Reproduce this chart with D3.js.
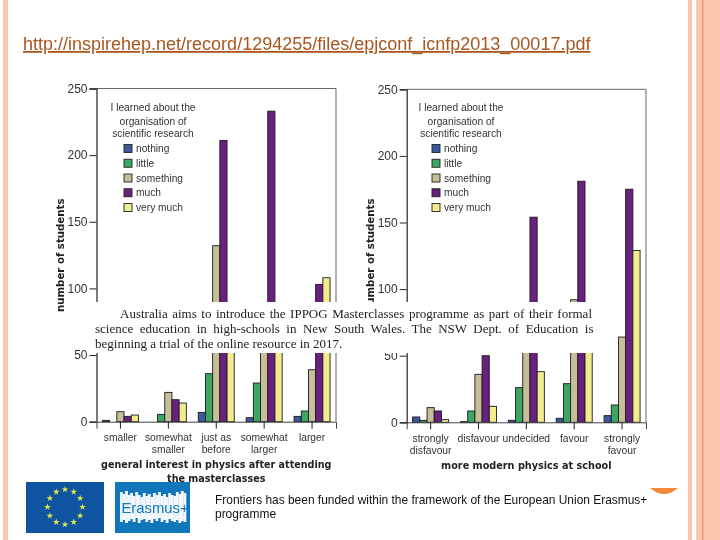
<!DOCTYPE html>
<html><head><meta charset="utf-8">
<script src="https://cdn.jsdelivr.net/npm/d3@7/dist/d3.min.js"></script>
<style>html,body{margin:0;padding:0;background:#fff}svg{display:block;filter:blur(0.35px)}</style>
</head><body><svg id="c" width="720" height="540"></svg>
<script>
const seriesNames = ["nothing","little","something","much","very much"];
const seriesColors = ["#3b5a9c","#3aa862","#c5be96","#6b2080","#f1ec8e"];
const yTicks = [0,50,100,150,200,250];
const legendTitle = ["I learned about the","organisation of","scientific research"];

const leftCategories = [["smaller"],["somewhat","smaller"],["just as","before"],["somewhat","larger"],["larger"]];
const leftNothing = [1,0,7,3,4];
const leftLittle = [0,5.5,36,29,8];
const leftSomething = [7.5,22,132,70,39];
const leftMuch = [4,16.5,211,233,103];
const leftVeryMuch = [5,14,70,70,108];
const leftAxisTitle = ["general interest in physics after attending","the masterclasses"];

const rightCategories = [["strongly","disfavour"],["disfavour"],["undecided"],["favour"],["strongly","favour"]];
const rightNothing = [4,0.5,1.5,3,5];
const rightLittle = [1.5,8.5,26,29,13];
const rightSomething = [11,36,70,92,64];
const rightMuch = [8.5,50,154,181,175];
const rightVeryMuch = [2,12,38,70,129];
const rightAxisTitle = ["more modern physics at school"];

const linkText = "http://inspirehep.net/record/1294255/files/epjconf_icnfp2013_00017.pdf";
const noteLines = ["Australia aims to introduce the IPPOG Masterclasses programme as part of their formal",
 "science education in high-schools in New South Wales. The NSW Dept. of Education is",
 "beginning a trial of the online resource in 2017."];
const footerLines = ["Frontiers has been funded within the framework of the European Union Erasmus+","programme"];
const logoBandTop = [7,5,8,4,6,3,7,4,2,6,3,5,2,6,4,7,3,5,2,6,4,3,7,5,8,6];
const logoBandBottom = [6,4,7,5,3,6,2,7,4,3,6,4,7,3,5,2,6,4,7,3,5,6,4,7,5,6];

const svg = d3.select("#c");
const sans = "'Liberation Sans',Arial,sans-serif";

// slide decoration
const stripes = [[3,5,"#f9c6b2"],[688,4,"#f9c6b2"],[696,24,"#fbc5b0"],[702,1.5,"#ee9a78"]];
svg.selectAll("rect.stripe").data(stripes).join("rect").attr("class","stripe")
  .attr("x",d=>d[0]).attr("y",0).attr("width",d=>d[1]).attr("height",540).attr("fill",d=>d[2]);

// link
svg.append("text").attr("x",23).attr("y",50).attr("font-family",sans).attr("font-size",18)
  .attr("fill","#a9561f").attr("text-decoration","underline").text(linkText);

function drawChart(o){
  const g = svg.append("g");
  const x = d3.scaleBand().domain(d3.range(o.cats.length)).range([o.x0,o.x1]);
  const y = d3.scaleLinear().domain([0,250]).range([o.y0,o.y1]);
  const inner = d3.scaleBand().domain(d3.range(5)).range([-18,18]);

  // frame
  g.append("path").attr("d",`M${o.x0},${o.y1}H${o.x1}V${o.y0}`).attr("fill","none").attr("stroke","#666").attr("stroke-width",1);

  // bars
  o.series.forEach((vals,s)=>{
    g.append("g").selectAll("rect").data(vals).join("rect")
      .attr("x",(d,i)=>x(i)+x.bandwidth()/2+inner(s))
      .attr("width",inner.bandwidth())
      .attr("y",d=>y(d)).attr("height",d=>y(0)-y(d))
      .attr("fill",seriesColors[s]).attr("stroke","#1d1a22").attr("stroke-width",0.9);
  });

  // axes
  const ya = g.append("g").attr("transform",`translate(${o.x0},0)`)
    .call(d3.axisLeft(y).tickValues(yTicks).tickSize(7).tickPadding(2));
  ya.selectAll("text").attr("font-family",sans).attr("font-size",12).attr("fill","#333");
  ya.selectAll("line").attr("stroke","#222").attr("stroke-width",1);
  ya.select(".domain").attr("stroke","#333").attr("stroke-width",1.3);

  const xa = g.append("g").attr("transform",`translate(0,${o.y0})`)
    .call(d3.axisBottom(x).tickSize(7).tickFormat(""));
  xa.selectAll("line").attr("stroke","#222").attr("stroke-width",1);
  xa.select(".domain").attr("stroke","#444").attr("stroke-width",1);

  // category labels
  o.cats.forEach((lines,i)=>{
    lines.forEach((t,k)=>{
      g.append("text").attr("x",x(i)+x.bandwidth()/2).attr("y",o.y0+k*11.8+19.5)
        .attr("text-anchor","middle").attr("font-family",sans).attr("font-size",10.3).attr("fill","#333").text(t);
    });
  });

  // axis titles
  o.title.forEach((t,k)=>{
    g.append("text").attr("x",(o.x0+o.x1)/2).attr("y",o.titleY+k*14)
      .attr("text-anchor","middle").attr("font-family","'DejaVu Sans',sans-serif").attr("font-weight","bold")
      .attr("font-size",o.titleSize).attr("fill","#222").text(t);
  });
  g.append("text").attr("transform",`translate(${o.labelX},${o.labelY}) rotate(-90)`)
    .attr("font-family","'DejaVu Sans',sans-serif").attr("font-weight","bold").attr("font-size",10.2)
    .attr("fill","#222").text("number of students");

  // legend
  legendTitle.forEach((t,k)=>{
    g.append("text").attr("x",o.legX).attr("y",[110.5,124.5,137][k]).attr("text-anchor","middle")
      .attr("font-family",sans).attr("font-size",10.2).attr("fill","#333").text(t);
  });
  const ly = d3.scalePoint().domain(seriesNames).range([148.5,207.5]);
  seriesNames.forEach((n,s)=>{
    g.append("rect").attr("x",o.legX-29).attr("y",ly(n)-4).attr("width",8).attr("height",8)
      .attr("fill",seriesColors[s]).attr("stroke","#222").attr("stroke-width",0.9);
    g.append("text").attr("x",o.legX-17).attr("y",ly(n)+3.6).attr("font-family",sans)
      .attr("font-size",10.2).attr("fill","#333").text(n);
  });
}

drawChart({cats:leftCategories,series:[leftNothing,leftLittle,leftSomething,leftMuch,leftVeryMuch],
  x0:96.5,x1:336,y0:421.7,y1:88.5,legX:153,title:leftAxisTitle,titleY:468,titleSize:9.6,labelX:63.5,labelY:312});
drawChart({cats:rightCategories,series:[rightNothing,rightLittle,rightSomething,rightMuch,rightVeryMuch],
  x0:406.7,x1:646,y0:422.3,y1:89.3,legX:461,title:rightAxisTitle,titleY:469,titleSize:9.7,labelX:374,labelY:312});

// overlay note
svg.append("rect").attr("x",90).attr("y",302).attr("width",520).attr("height",51).attr("fill","#fff");
const noteSpec = [[120,592,317.5],[95,593.5,332.5],[95,null,347.5]];
noteLines.forEach((t,k)=>{
  const [a,b,yy]=noteSpec[k];
  const el = svg.append("text").attr("x",a).attr("y",yy).attr("font-family","'Liberation Serif',serif")
    .attr("font-size",13).attr("fill","#222").text(t);
  if(b!==null){
    const len = el.node().getComputedTextLength();
    const gaps = t.split(" ").length-1;
    el.attr("word-spacing",(b-a-len)/gaps);
  }
});

// EU flag
svg.append("rect").attr("x",26).attr("y",482).attr("width",78).attr("height",51).attr("fill","#0f54a0");
const star = d3.symbol().type(d3.symbolStar).size(14);
svg.append("g").selectAll("path").data(d3.range(12)).join("path")
  .attr("d",star).attr("fill","#e6e84a")
  .attr("transform",i=>`translate(${65+17.5*Math.sin(i*Math.PI/6)},${507-17.5*Math.cos(i*Math.PI/6)})`);

// Erasmus+ logo
svg.append("rect").attr("x",115).attr("y",482).attr("width",75).attr("height",51).attr("fill","#1177bd");
const colX = d3.scaleBand().domain(d3.range(logoBandTop.length)).range([120,186]);
svg.append("g").selectAll("rect").data(logoBandTop).join("rect")
  .attr("x",(d,i)=>colX(i)).attr("width",colX.bandwidth()+0.3)
  .attr("y",d=>499-d).attr("height",d=>d+19).attr("fill","#f2f7fb");
svg.append("g").selectAll("rect").data(logoBandBottom).join("rect")
  .attr("x",(d,i)=>colX(i)).attr("width",colX.bandwidth()+0.3)
  .attr("y",516).attr("height",d=>d).attr("fill","#f2f7fb");
svg.append("text").attr("x",121.5).attr("y",513).attr("font-family",sans).attr("font-size",14.8).attr("fill","#1177bd").text("Erasmus+");

// footer
footerLines.forEach((t,k)=>{
  svg.append("text").attr("x",215).attr("y",504+k*14).attr("font-family",sans).attr("font-size",11.95).attr("fill","#111").text(t);
});

// orange crescent
svg.append("path").attr("d","M650,488Q664,500 678,488Z").attr("fill","#f58a3c");
</script></body></html>
